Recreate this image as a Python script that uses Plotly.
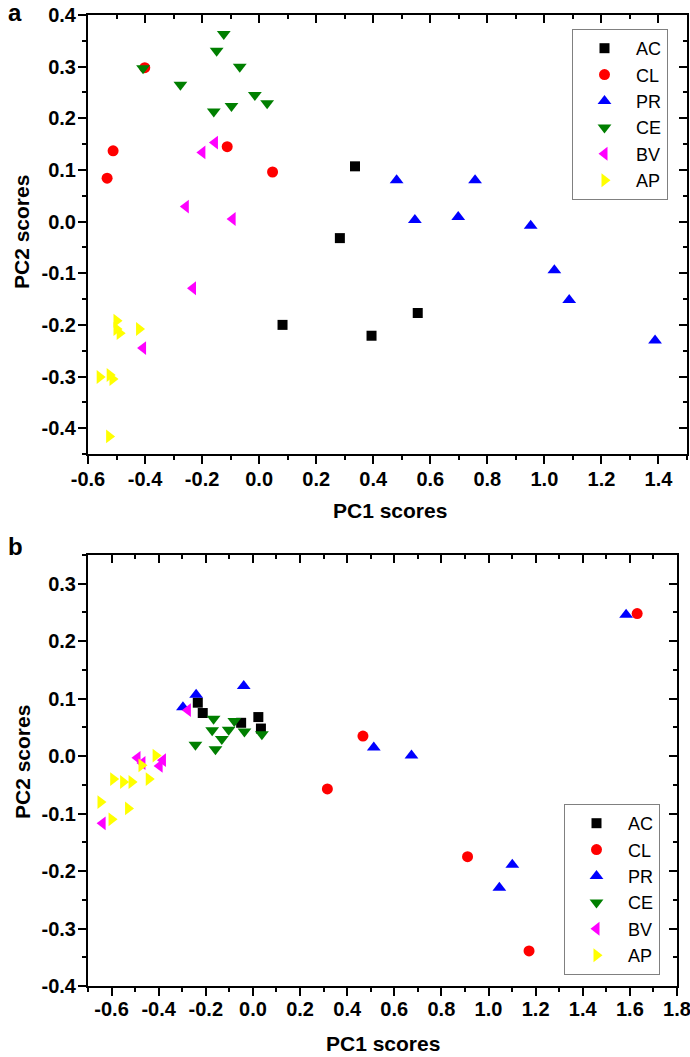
import plotly.graph_objects as go

# ---------------- data: panel a ----------------
AC_a_x = [0.336, 0.283, 0.082, 0.394, 0.556]
AC_a_y = [0.107, -0.032, -0.200, -0.221, -0.177]
CL_a_x = [-0.401, -0.512, -0.533, -0.112, 0.047]
CL_a_y = [0.298, 0.137, 0.084, 0.145, 0.096]
PR_a_x = [0.482, 0.757, 0.546, 0.698, 0.952, 1.035, 1.087, 1.388]
PR_a_y = [0.080, 0.080, 0.003, 0.009, -0.008, -0.094, -0.152, -0.230]
CE_a_x = [-0.407, -0.276, -0.149, -0.124, -0.068, -0.159, -0.097, -0.015, 0.028]
CE_a_y = [0.297, 0.265, 0.331, 0.363, 0.300, 0.213, 0.224, 0.245, 0.229]
BV_a_x = [-0.199, -0.155, -0.257, -0.093, -0.232, -0.407]
BV_a_y = [0.134, 0.153, 0.029, 0.005, -0.129, -0.245]
AP_a_x = [-0.500, -0.500, -0.489, -0.421, -0.559, -0.524, -0.514, -0.526]
AP_a_y = [-0.192, -0.208, -0.216, -0.208, -0.301, -0.297, -0.305, -0.416]

# ---------------- data: panel b ----------------
AC_b_x = [-0.234, -0.213, -0.050, 0.023, 0.034]
AC_b_y = [0.093, 0.075, 0.058, 0.068, 0.048]
CL_b_x = [1.631, 0.467, 0.316, 0.911, 1.172]
CL_b_y = [0.248, 0.035, -0.057, -0.175, -0.339]
PR_b_x = [-0.297, -0.241, -0.039, 0.513, 0.673, 1.584, 1.101, 1.046]
PR_b_y = [0.085, 0.107, 0.122, 0.015, 0.001, 0.246, -0.189, -0.229]
CE_b_x = [-0.167, -0.173, -0.244, -0.159, -0.132, -0.103, -0.079, -0.036, 0.038]
CE_b_y = [0.065, 0.045, 0.020, 0.012, 0.030, 0.046, 0.061, 0.043, 0.038]
BV_b_x = [-0.276, -0.490, -0.469, -0.382, -0.396, -0.638]
BV_b_y = [0.080, -0.003, -0.012, -0.007, -0.017, -0.117]
AP_b_x = [-0.413, -0.473, -0.593, -0.551, -0.515, -0.442, -0.647, -0.530, -0.600]
AP_b_y = [0.001, -0.016, -0.040, -0.045, -0.045, -0.040, -0.080, -0.091, -0.110]

# ---------------- ticks ----------------
xa_tickvals = [-0.6, -0.4, -0.2, 0.0, 0.2, 0.4, 0.6, 0.8, 1.0, 1.2, 1.4]
xa_ticktext = ["-0.6", "-0.4", "-0.2", "0.0", "0.2", "0.4", "0.6", "0.8", "1.0", "1.2", "1.4"]
ya_tickvals = [-0.4, -0.3, -0.2, -0.1, 0.0, 0.1, 0.2, 0.3, 0.4]
ya_ticktext = ["-0.4", "-0.3", "-0.2", "-0.1", "0.0", "0.1", "0.2", "0.3", "0.4"]
xb_tickvals = [-0.6, -0.4, -0.2, 0.0, 0.2, 0.4, 0.6, 0.8, 1.0, 1.2, 1.4, 1.6, 1.8]
xb_ticktext = ["-0.6", "-0.4", "-0.2", "0.0", "0.2", "0.4", "0.6", "0.8", "1.0", "1.2", "1.4", "1.6", "1.8"]
yb_tickvals = [-0.4, -0.3, -0.2, -0.1, 0.0, 0.1, 0.2, 0.3]
yb_ticktext = ["-0.4", "-0.3", "-0.2", "-0.1", "0.0", "0.1", "0.2", "0.3"]

groups = ["AC", "CL", "PR", "CE", "BV", "AP"]
colors = {"AC": "#000000", "CL": "#ff0000", "PR": "#0000ff",
          "CE": "#007f00", "BV": "#ff00ff", "AP": "#ffff00"}
symbols = {"AC": "square", "CL": "circle", "PR": "triangle-up",
           "CE": "triangle-down", "BV": "triangle-left", "AP": "triangle-right"}
sizes = {"AC": 10, "CL": 11, "PR": 12, "CE": 12, "BV": 12, "AP": 12}

data_a = {"AC": (AC_a_x, AC_a_y), "CL": (CL_a_x, CL_a_y), "PR": (PR_a_x, PR_a_y),
          "CE": (CE_a_x, CE_a_y), "BV": (BV_a_x, BV_a_y), "AP": (AP_a_x, AP_a_y)}
data_b = {"AC": (AC_b_x, AC_b_y), "CL": (CL_b_x, CL_b_y), "PR": (PR_b_x, PR_b_y),
          "CE": (CE_b_x, CE_b_y), "BV": (BV_b_x, BV_b_y), "AP": (AP_b_x, AP_b_y)}

fig = go.Figure()
# the last group of each panel is drawn on the (identical) mirror axes so that
# the top/right inward tick axes are rendered
for panel, data, axes_main, axes_last, leg in [
        ("a", data_a, ("x", "y"), ("x3", "y3"), "legend"),
        ("b", data_b, ("x2", "y2"), ("x4", "y4"), "legend2")]:
    for g in groups:
        x, y = data[g]
        xa, ya = axes_last if g == groups[-1] else axes_main
        fig.add_trace(go.Scatter(x=x, y=y, mode="markers", name=g, xaxis=xa, yaxis=ya,
                                 legend=leg,
                                 marker=dict(color=colors[g], symbol=symbols[g],
                                             size=sizes[g], line=dict(width=0))))

W, H = 690, 1057
FONT = "Arial, Liberation Sans, sans-serif"
tickfont = dict(family=FONT, size=20, color="black", weight="bold")


def px_x(p):
    return p / W


def px_y(p):
    return 1 - p / H


def main_axis(domain, rng, tv, tt, anchor, minor_dtick, standoff):
    return dict(domain=domain, range=rng, anchor=anchor, tickmode="array",
                tickvals=tv, ticktext=tt, ticks="outside", ticklen=8, tickwidth=2,
                tickcolor="black", showline=True, linewidth=2, linecolor="black",
                mirror=True, ticklabeloverflow="allow",
                showgrid=False, zeroline=False, tickfont=tickfont, automargin=False,
                ticklabelstandoff=standoff,
                minor=dict(ticks="outside", ticklen=4, tickwidth=2, tickcolor="black",
                           tickmode="linear", tick0=0, dtick=minor_dtick, showgrid=False))


def mirror_axis(over, anchor, side, rng, tv, minor_dtick):
    return dict(overlaying=over, anchor=anchor, side=side, range=rng, tickmode="array",
                tickvals=tv, ticks="inside", ticklen=8, tickwidth=2, tickcolor="black",
                showticklabels=False, showline=False,
                showgrid=False, zeroline=False, automargin=False,
                minor=dict(ticks="inside", ticklen=4, tickwidth=2, tickcolor="black",
                           tickmode="linear", tick0=0, dtick=minor_dtick, showgrid=False))


xa_dom = [px_x(88), px_x(687)]
ya_dom = [px_y(454), px_y(15)]
xb_dom = [px_x(88), px_x(677)]
yb_dom = [px_y(986), px_y(555)]
xa_rng, ya_rng = [-0.6, 1.5], [-0.45, 0.4]
xb_rng, yb_rng = [-0.7, 1.8], [-0.4, 0.35]

legend_common = dict(font=dict(family=FONT, size=18, color="black"), bgcolor="white",
                     bordercolor="#808080", borderwidth=1, xanchor="left", yanchor="top",
                     xref="paper", yref="paper", itemwidth=53, tracegroupgap=0,
                     itemclick=False)

fig.update_layout(
    width=W, height=H, paper_bgcolor="white", plot_bgcolor="white",
    margin=dict(l=0, r=0, t=0, b=0, pad=0),
    xaxis=main_axis(xa_dom, xa_rng, xa_tickvals, xa_ticktext, "y", 0.1, -2),
    yaxis=main_axis(ya_dom, ya_rng, ya_tickvals, ya_ticktext, "x", 0.05, -2),
    xaxis2=main_axis(xb_dom, xb_rng, xb_tickvals, xb_ticktext, "y2", 0.1, -4),
    yaxis2=main_axis(yb_dom, yb_rng, yb_tickvals, yb_ticktext, "x2", 0.05, -2),
    xaxis3=mirror_axis("x", "y3", "top", xa_rng, xa_tickvals, 0.1),
    yaxis3=mirror_axis("y", "x3", "right", ya_rng, ya_tickvals, 0.05),
    xaxis4=mirror_axis("x2", "y4", "top", xb_rng, xb_tickvals, 0.1),
    yaxis4=mirror_axis("y2", "x4", "right", yb_rng, yb_tickvals, 0.05),
    legend=dict(x=px_x(572), y=px_y(29), **legend_common),
    legend2=dict(x=px_x(564), y=px_y(804), **legend_common),
    showlegend=True,
)

title_font = dict(family=FONT, size=21, color="black", weight="bold")
label_font = dict(family=FONT, size=24, color="black", weight="bold")
annots = [
    dict(text="PC1 scores", x=px_x(390), y=px_y(510), font=title_font),
    dict(text="PC1 scores", x=px_x(383), y=px_y(1043), font=title_font),
    dict(text="PC2 scores", x=px_x(22), y=px_y(232), font=title_font, textangle=-90),
    dict(text="PC2 scores", x=px_x(22), y=px_y(762), font=title_font, textangle=-90),
    dict(text="a", x=px_x(15), y=px_y(12), font=label_font),
    dict(text="b", x=px_x(15), y=px_y(546), font=label_font),
]
for a in annots:
    fig.add_annotation(xref="paper", yref="paper", showarrow=False,
                       xanchor="center", yanchor="middle", borderpad=0, **a)

# remove the browser's default 8px body margin so the figure fills the window
fig.write_html("out.html", config={"displayModeBar": False},
               post_script="document.body.style.margin='0px';")
